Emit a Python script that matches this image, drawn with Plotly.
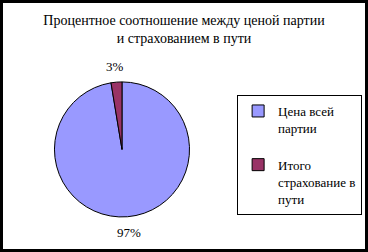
import math
import plotly.graph_objects as go

labels = ["Цена всей<br>партии<br> ", "Итого<br>страхование в<br>пути"]
values = [97.4, 2.6]
text_labels = ["97%", "3%"]
colors = ["#9999FF", "#993366"]

FONT = "Times New Roman, Liberation Serif, serif"
W, H = 368, 252
DOM_X = [0.148, 0.515]
DOM_Y = [0.137, 0.677]

fig = go.Figure(go.Pie(
    labels=labels,
    values=values,
    textinfo="none",
    sort=False,
    direction="clockwise",
    rotation=0,
    marker=dict(colors=colors, line=dict(color="black", width=1)),
    domain=dict(x=DOM_X, y=DOM_Y),
    showlegend=True,
    hoverinfo="label+percent",
))

# outside percentage labels placed at each slice's mid-angle
cx = (DOM_X[0] + DOM_X[1]) / 2 * W
cy = (DOM_Y[0] + DOM_Y[1]) / 2 * H
label_r = 83
total = sum(values)
annotations = []
acc = 0.0
for v, t in zip(values, text_labels):
    mid = (acc + v / 2) / total * 2 * math.pi
    acc += v
    px = cx + label_r * math.sin(mid)
    py = cy + label_r * math.cos(mid)
    annotations.append(dict(
        x=px / W, y=py / H, xref="paper", yref="paper",
        text=t, showarrow=False, xanchor="center", yanchor="middle",
        font=dict(family=FONT, size=13, color="black"),
    ))

fig.update_layout(
    width=W, height=H,
    margin=dict(l=0, r=0, t=0, b=0),
    paper_bgcolor="white",
    plot_bgcolor="white",
    font=dict(family=FONT, size=13, color="black"),
    title=dict(
        text="Процентное соотношение между ценой партии<br>и страхованием в пути",
        x=0.5, xanchor="center", y=0.9, yanchor="middle",
        font=dict(family=FONT, size=14, color="black"),
    ),
    legend=dict(
        x=0.984, xanchor="right", y=0.623, yanchor="top",
        bordercolor="black", borderwidth=1,
        font=dict(family=FONT, size=13, color="black"),
        valign="top",
        bgcolor="white",
    ),
    annotations=annotations,
    shapes=[dict(type="rect", xref="paper", yref="paper", x0=0, y0=0, x1=1, y1=1,
                 line=dict(color="black", width=6), fillcolor="rgba(0,0,0,0)")],
)

fig.write_html("out.html")
